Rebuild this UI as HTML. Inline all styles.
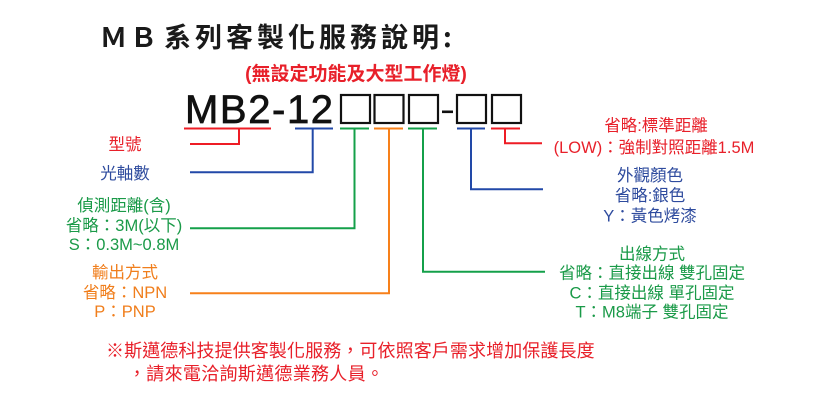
<!DOCTYPE html>
<html>
<head>
<meta charset="utf-8">
<style>
  html,body{margin:0;padding:0;background:#fff;}
  body{width:819px;height:419px;overflow:hidden;}
  svg{display:block;}
  text{font-family:"Liberation Sans","Noto Sans CJK TC","Noto Sans CJK SC",sans-serif;}
  .cjk{font-family:"Noto Sans CJK TC","Liberation Sans",sans-serif;}
</style>
</head>
<body>
<svg width="819" height="419" viewBox="0 0 819 419" xmlns="http://www.w3.org/2000/svg">
  <!-- Title -->
  <text class="cjk" x="100" y="47" font-size="27" font-weight="bold" fill="#1a1a1a">Ｍ</text>
  <text class="cjk" x="130" y="47" font-size="27" font-weight="bold" fill="#1a1a1a">Ｂ</text>
  <text class="cjk" x="164" y="47" font-size="27" font-weight="bold" fill="#1a1a1a" letter-spacing="4">系列客製化服務說明:</text>

  <!-- Subtitle -->
  <text x="356" y="80" font-size="19" font-weight="bold" fill="#e8202a" text-anchor="middle">(無設定功能及大型工作燈)</text>

  <!-- Model code -->
  <text x="185" y="123" font-size="40" fill="#111" stroke="#111" stroke-width="0.7" letter-spacing="1.6">MB2-12</text>

  <!-- Boxes -->
  <g fill="none" stroke="#111" stroke-width="2.2">
    <rect x="341" y="95" width="29" height="28"/>
    <rect x="374.5" y="95" width="29" height="28"/>
    <rect x="409" y="95" width="29" height="28"/>
    <rect x="457" y="95" width="29" height="28"/>
    <rect x="492" y="95" width="29" height="28"/>
  </g>
  <rect x="442" y="110.5" width="11" height="2.6" fill="#111"/>

  <!-- Connectors -->
  <g fill="none" stroke-width="2" stroke-linecap="butt">
    <path d="M184 128.5 H271" stroke="#ee1c25"/>
    <path d="M239 128.5 V144 H190" stroke="#ee1c25"/>
    <path d="M295 128.5 H333" stroke="#2249a8"/>
    <path d="M312.7 128.5 V172.3 H190" stroke="#2249a8"/>
    <path d="M340 128.5 H369" stroke="#14a04a"/>
    <path d="M354.5 128.5 V228.3 H190" stroke="#14a04a"/>
    <path d="M374 128.5 H403" stroke="#f7801a"/>
    <path d="M389 128.5 V293.3 H190" stroke="#f7801a"/>
    <path d="M408 128.5 H437" stroke="#14a04a"/>
    <path d="M423 128.5 V271.7 H545" stroke="#14a04a"/>
    <path d="M457 128.5 H485" stroke="#2249a8"/>
    <path d="M471 128.5 V189.3 H543" stroke="#2249a8"/>
    <path d="M491 128.5 H520" stroke="#ee1c25"/>
    <path d="M505 128.5 V143.3 H542" stroke="#ee1c25"/>
  </g>

  <!-- Left labels -->
  <g font-size="16.5" text-anchor="middle">
    <text x="125" y="150" fill="#e8202a">型號</text>
    <text x="125" y="179" fill="#2e4b9e">光軸數</text>
    <text x="124" y="211" fill="#1a9a48">偵測距離(含)</text>
    <text x="124" y="231" fill="#1a9a48">省略：3M(以下)</text>
    <text x="124" y="250" fill="#1a9a48">S：0.3M~0.8M</text>
    <text x="125" y="278" fill="#f07e1c">輸出方式</text>
    <text x="125" y="298" fill="#f07e1c">省略：NPN</text>
    <text x="125" y="317" fill="#f07e1c">P：PNP</text>
  </g>

  <!-- Right labels -->
  <g font-size="16.5" text-anchor="middle">
    <text x="656" y="131" fill="#e8202a">省略:標準距離</text>
    <text x="654" y="153" fill="#e8202a">(LOW)：強制對照距離1.5M</text>
    <text x="650" y="181" fill="#2e4b9e">外觀顏色</text>
    <text x="650" y="201" fill="#2e4b9e">省略:銀色</text>
    <text x="650" y="221.5" fill="#2e4b9e">Y：黃色烤漆</text>
    <text x="652" y="259.5" fill="#1a9a48">出線方式</text>
    <text x="652" y="278.5" fill="#1a9a48">省略：直接出線 雙孔固定</text>
    <text x="652" y="298.7" fill="#1a9a48">C：直接出線 單孔固定</text>
    <text x="652" y="317.7" fill="#1a9a48">T：M8端子 雙孔固定</text>
  </g>

  <!-- Bottom note -->
  <g font-size="18" fill="#e8202a">
    <text class="cjk" x="106" y="357" letter-spacing="0.1">※斯邁德科技提供客製化服務，可依照客戶需求增加保護長度</text>
    <text class="cjk" x="128" y="380" letter-spacing="0.3">，請來電洽詢斯邁德業務人員。</text>
  </g>
</svg>
</body>
</html>
